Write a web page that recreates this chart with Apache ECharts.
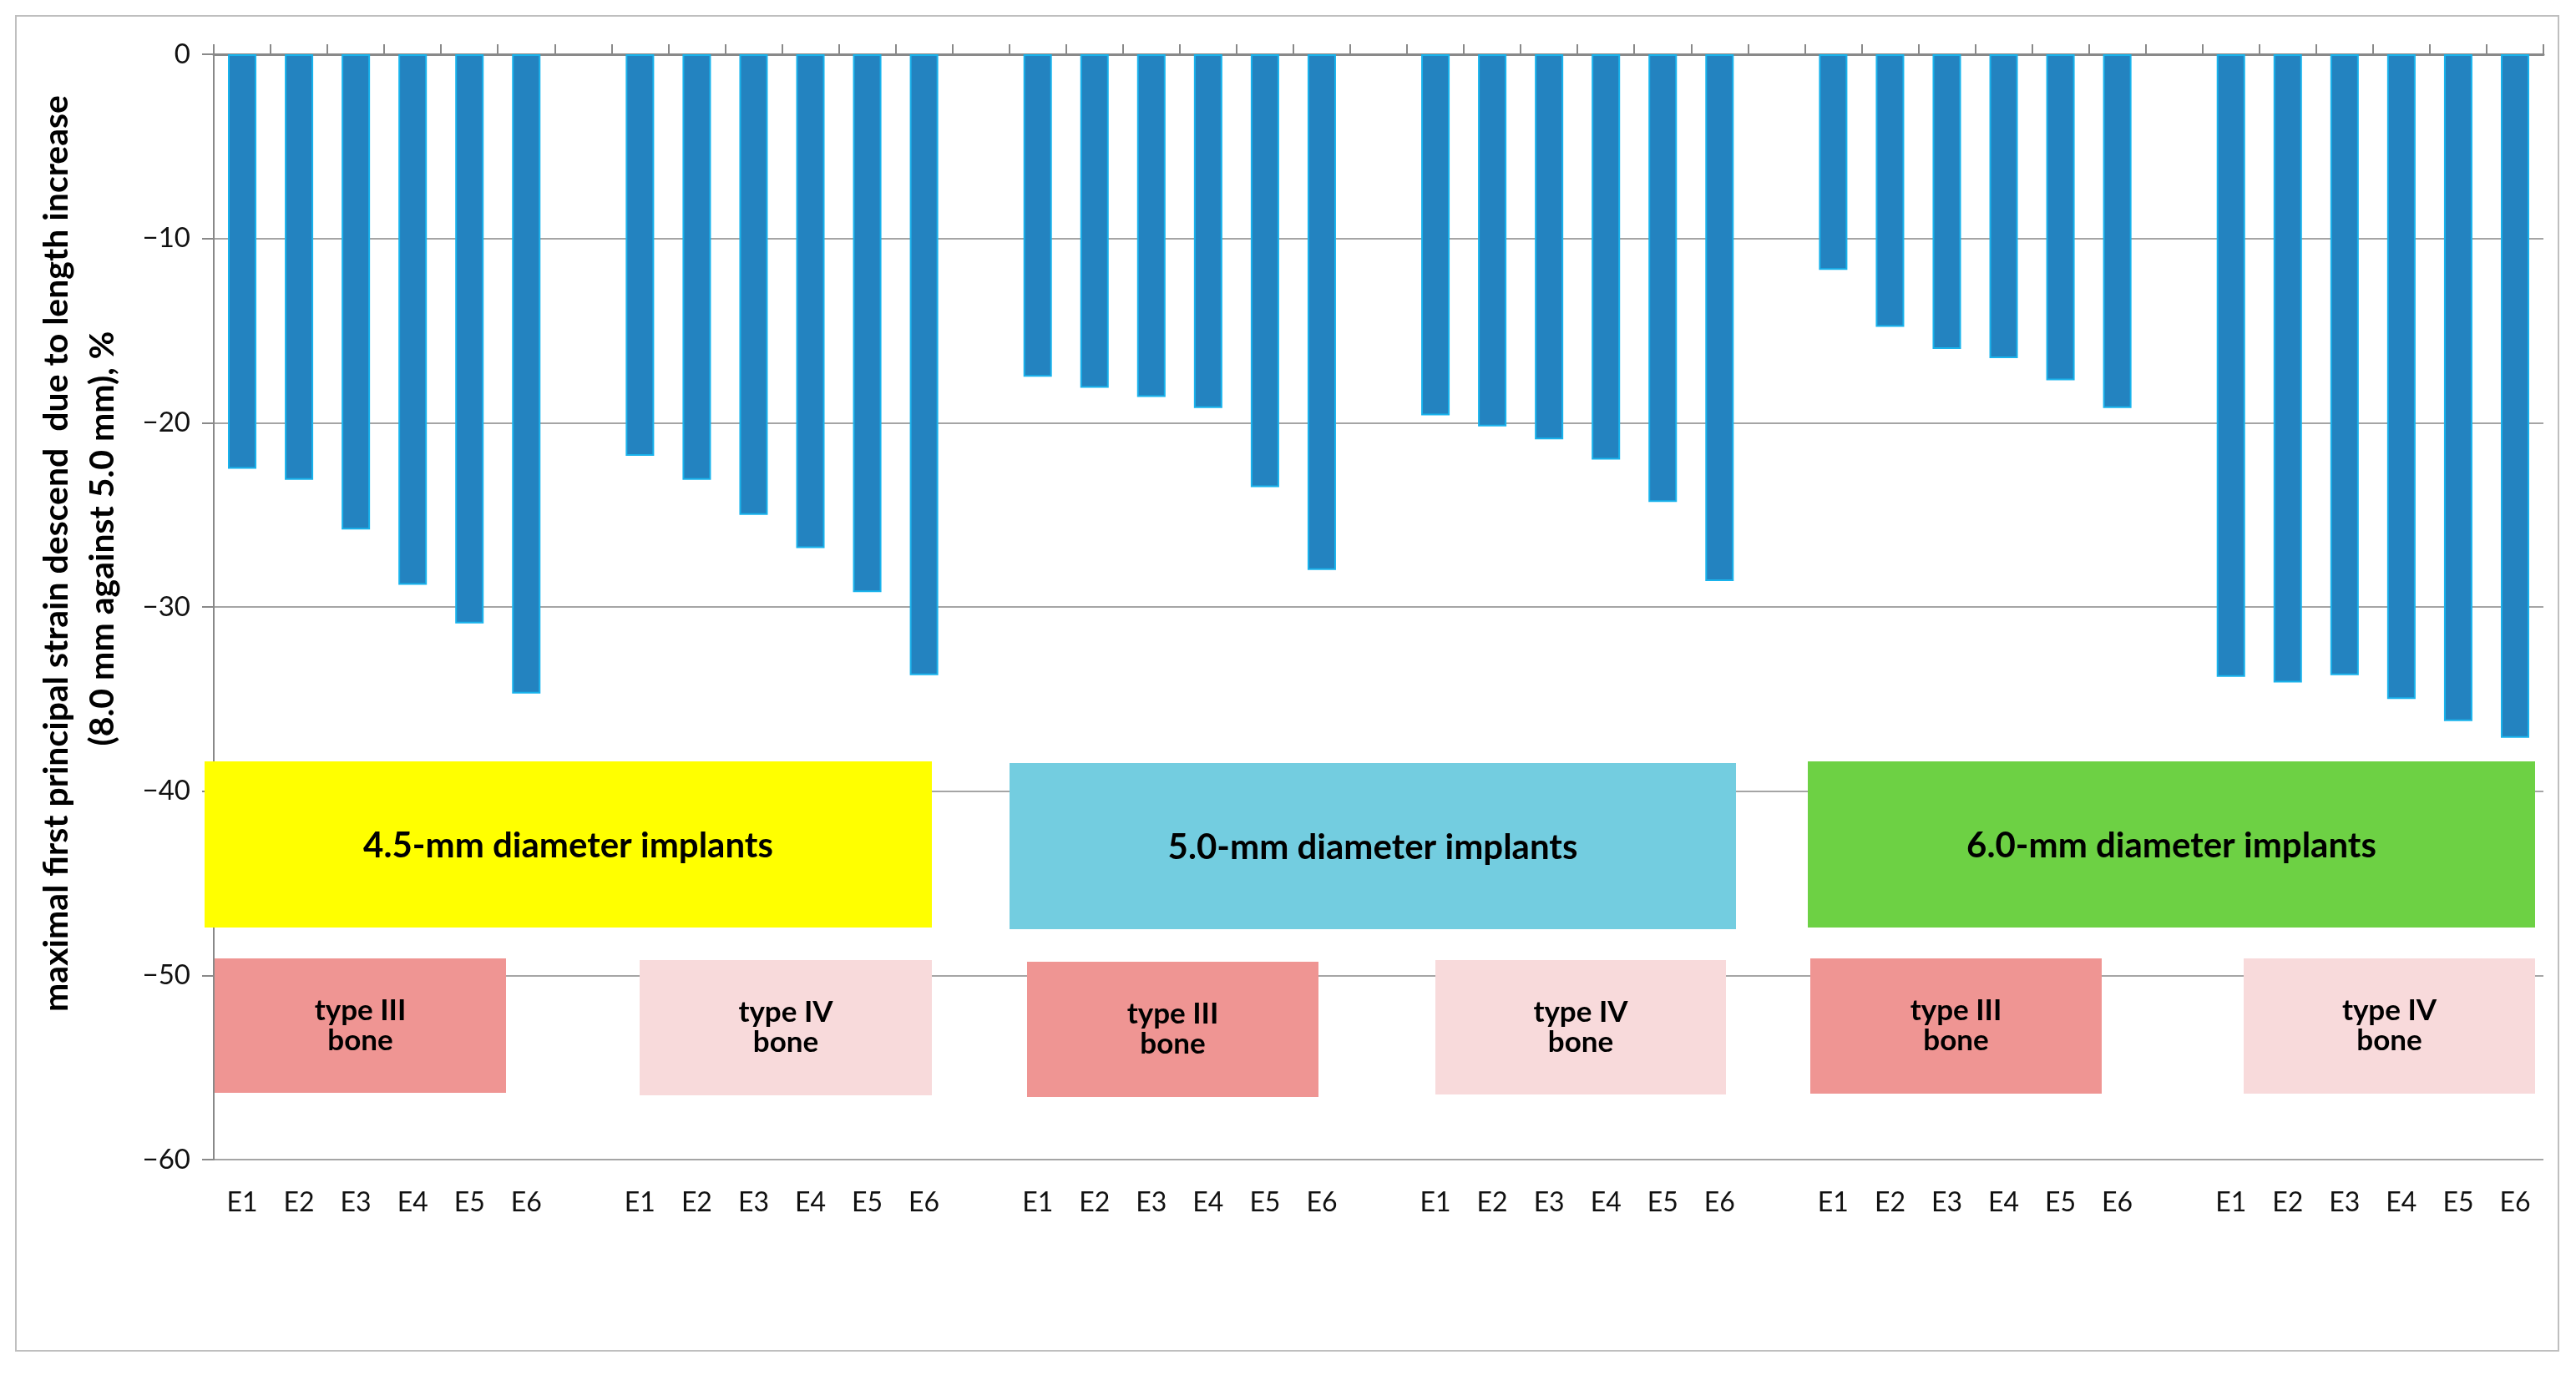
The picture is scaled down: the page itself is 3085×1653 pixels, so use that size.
<!DOCTYPE html>
<html>
<head>
<meta charset="utf-8">
<script src="https://cdn.jsdelivr.net/npm/echarts@6/dist/echarts.min.js"></script>
<style>
  html, body { margin: 0; padding: 0; background: #fff; }
  #chart { width: 3085px; height: 1653px; }
</style>
</head>
<body>
<div id="chart"></div>
<script>
// ---- data ----
const barLabels = ['E1', 'E2', 'E3', 'E4', 'E5', 'E6'];
const groupNames = ['4.5-III', '4.5-IV', '5.0-III', '5.0-IV', '6.0-III', '6.0-IV'];
const g45typeIII = [-22.5, -23.1, -25.8, -28.8, -30.9, -34.7];
const g45typeIV  = [-21.8, -23.1, -25.0, -26.8, -29.2, -33.7];
const g50typeIII = [-17.5, -18.1, -18.6, -19.2, -23.5, -28.0];
const g50typeIV  = [-19.6, -20.2, -20.9, -22.0, -24.3, -28.6];
const g60typeIII = [-11.7, -14.8, -16.0, -16.5, -17.7, -19.2];
const g60typeIV  = [-33.8, -34.1, -33.7, -35.0, -36.2, -37.1];
const yTicks = [0, -10, -20, -30, -40, -50, -60];
const yTitleLine1 = 'maximal first principal strain descend  due to length increase';
const yTitleLine2 = '(8.0 mm against 5.0 mm), %';
const diameterLabels = ['4.5-mm diameter implants', '5.0-mm diameter implants', '6.0-mm diameter implants'];
const boneLabels = ['type III\nbone', 'type IV\nbone'];

// ---- build categories (6 bars + 1 empty slot per group) ----
const groups = [g45typeIII, g45typeIV, g50typeIII, g50typeIV, g60typeIII, g60typeIV];
const categories = [];
const values = [];
groups.forEach((g, gi) => {
  g.forEach((v, i) => { categories.push(groupNames[gi] + '|' + barLabels[i]); values.push(v); });
  if (gi < groups.length - 1) { categories.push('gap' + gi + '|'); values.push(null); }
});

const FONT = 'Lato, "Open Sans", sans-serif';

// ---- annotation boxes (layout) ----
const diaBoxes = [
  { x: 245, y: 912, w: 871, h: 199, color: '#FFFF00', text: diameterLabels[0] },
  { x: 1209, y: 914, w: 870, h: 199, color: '#73CDE0', text: diameterLabels[1] },
  { x: 2165, y: 912, w: 871, h: 199, color: '#6DD144', text: diameterLabels[2] }
];
const boneBoxes = [
  { x: 257, y: 1148, w: 349, h: 161, color: '#EF9593', text: boneLabels[0] },
  { x: 766, y: 1150, w: 350, h: 162, color: '#F8DADB', text: boneLabels[1] },
  { x: 1230, y: 1152, w: 349, h: 162, color: '#EF9593', text: boneLabels[0] },
  { x: 1719, y: 1150, w: 348, h: 161, color: '#F8DADB', text: boneLabels[1] },
  { x: 2168, y: 1148, w: 349, h: 162, color: '#EF9593', text: boneLabels[0] },
  { x: 2687, y: 1148, w: 349, h: 162, color: '#F8DADB', text: boneLabels[1] }
];

const graphics = [];
// outer frame
graphics.push({ type: 'rect', z: 0, silent: true,
  shape: { x: 19, y: 19, width: 3045, height: 1599 },
  style: { fill: 'none', stroke: '#BFBFBF', lineWidth: 2 } });
diaBoxes.forEach(b => {
  graphics.push({ type: 'rect', z: 50, shape: { x: b.x, y: b.y, width: b.w, height: b.h }, style: { fill: b.color } });
  graphics.push({ type: 'text', z: 51, x: b.x + b.w / 2, y: b.y + b.h / 2 + 2,
    style: { text: b.text, font: 'bold 42px ' + FONT, fill: '#000', align: 'center', verticalAlign: 'middle' } });
});
boneBoxes.forEach(b => {
  graphics.push({ type: 'text', z: 51, x: b.x + b.w / 2, y: b.y + b.h / 2,
    style: { text: b.text, font: 'bold 35px ' + FONT, lineHeight: 36, fill: '#000', align: 'center', verticalAlign: 'middle' } });
  graphics.push({ type: 'rect', z: 50, shape: { x: b.x, y: b.y, width: b.w, height: b.h }, style: { fill: b.color } });
});
// y axis title (two rotated lines)
graphics.push({ type: 'text', z: 51, x: 68, y: 663, rotation: Math.PI / 2,
  style: { text: yTitleLine1, font: 'bold 41px ' + FONT, fill: '#000', align: 'center', verticalAlign: 'middle' } });
graphics.push({ type: 'text', z: 51, x: 123, y: 645, rotation: Math.PI / 2,
  style: { text: yTitleLine2, font: 'bold 41px ' + FONT, fill: '#000', align: 'center', verticalAlign: 'middle' } });

const chart = echarts.init(document.getElementById('chart'), null, { renderer: 'canvas' });
chart.setOption({
  animation: false,
  backgroundColor: '#fff',
  grid: { left: 256, right: 39, top: 65, bottom: 264, containLabel: false },
  xAxis: [
    {
      type: 'category', data: categories, position: 'top',
      axisLine: { show: true, onZero: false, lineStyle: { color: '#898989', width: 3 } },
      axisTick: { show: true, inside: false, length: 12, interval: 0, lineStyle: { color: '#898989', width: 2 } },
      axisLabel: { show: false },
      splitLine: { show: false }
    },
    {
      type: 'category', data: categories, position: 'bottom',
      axisLine: { show: false }, axisTick: { show: false },
      axisLabel: {
        show: true, interval: 0, margin: 36,
        fontFamily: FONT, fontSize: 32, color: '#111',
        formatter: v => v.split('|')[1]
      }
    }
  ],
  yAxis: {
    type: 'value', min: yTicks[yTicks.length - 1], max: yTicks[0], interval: 10,
    axisLine: { show: true, lineStyle: { color: '#898989', width: 2 } },
    axisTick: { show: true, length: 14, lineStyle: { color: '#898989', width: 2 } },
    splitLine: { show: true, lineStyle: { color: '#A5A5A5', width: 2 } },
    axisLabel: {
      margin: 28, fontFamily: FONT, fontSize: 33, color: '#111',
      formatter: v => (v < 0 ? '\u2212' + Math.abs(v) : String(v))
    }
  },
  series: [{
    type: 'bar', xAxisIndex: 0, data: values, barWidth: '50%',
    itemStyle: { color: '#2383C0', borderColor: '#19B3EC', borderWidth: 2 },
    z: 2
  }],
  graphic: graphics
});
</script>
</body>
</html>
